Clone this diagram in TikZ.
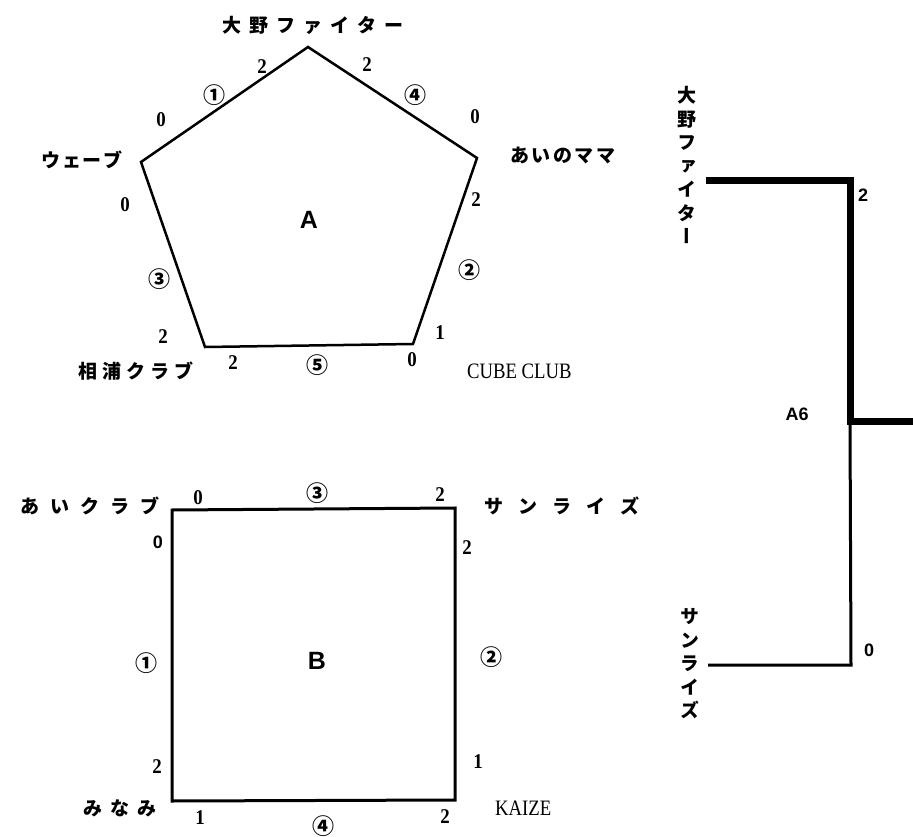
\documentclass[tikz,border=0pt]{standalone}
\usepackage{fontspec}
\setmainfont{Liberation Serif}
\setsansfont{Liberation Sans}
\newfontfamily\jpfont{Noto Sans CJK JP}
\newfontfamily\jpvert[RawFeature=+vert]{Noto Sans CJK JP}
\newfontfamily\clubfont[FakeStretch=0.85]{Liberation Serif}
\newfontfamily\ptsfont[FakeStretch=0.9]{Liberation Serif}
\usetikzlibrary{positioning}
\newlength\jgap
\def\jsp#1#2{\setlength\jgap{#1}\jspi#2\relax}
\def\jspi#1{\ifx#1\relax\unskip\else#1\hspace{\jgap}\expandafter\jspi\fi}

\begin{document}
\begin{tikzpicture}[x=1pt,y=-1pt]
\path [use as bounding box] (0,0) rectangle (913,837);
\tikzstyle{team} = [inner sep=0pt, font=\jpfont\bfseries\fontsize{19}{19}\selectfont]
\tikzstyle{vteam} = [inner sep=0pt, align=center, font=\jpvert\bfseries\fontsize{19}{23.5}\selectfont]
\tikzstyle{pts} = [inner sep=0pt, font=\ptsfont\bfseries\fontsize{21}{21}\selectfont]
\tikzstyle{spts} = [inner sep=0pt, font=\sffamily\bfseries\fontsize{18}{18}\selectfont]
\tikzstyle{order} = [inner sep=0pt, font=\jpfont\bfseries\fontsize{22}{22}\selectfont]
\tikzstyle{club} = [inner sep=0pt, font=\clubfont\fontsize{22}{22}\selectfont]
\tikzstyle{group} = [inner sep=0pt, font=\sffamily\bfseries\fontsize{25}{25}\selectfont]
\coordinate (oono) at (308,47);
\coordinate (aino) at (477,158);
\coordinate (cube) at (413,344);
\coordinate (aiura) at (205,347);
\coordinate (wave) at (141,162);
\draw[line width=2.5pt, line join=miter] (oono) -- (aino) -- (cube) -- (aiura) -- (wave) -- cycle;
\node[group] (A) at (309,220) {A};
\node[team] (oonoT) at (313,25) {\jsp{8pt}{大野ファイター}};
\node[team, anchor=west] (ainoT) at (510,155) {\jsp{2.5pt}{あいのママ}};
\node[team] (waveT) at (82,160) {\jsp{1.5pt}{ウェーブ}};
\node[team] (aiuraT) at (136,371) {\jsp{5pt}{相浦クラブ}};
\node[club, anchor=west] (cubeT) at (467,371) {CUBE CLUB};
\node[pts] at (262,67) {2};
\node[order] at (214,95) {①};
\node[pts] at (161,120) {0};
\node[pts] at (367,65) {2};
\node[order] at (415,95) {④};
\node[pts] at (475,117) {0};
\node[pts] at (476,200) {2};
\node[order] at (469,270) {②};
\node[pts] at (440,333) {1};
\node[pts] at (412,360) {0};
\node[order] at (317,365) {⑤};
\node[pts] at (233,363) {2};
\node[pts] at (125,205) {0};
\node[order] at (159,279) {③};
\node[pts] at (163,337) {2};
\coordinate (aiclub) at (172,510);
\coordinate (sun) at (455,508);
\coordinate (kaize) at (455,800);
\coordinate (minami) at (172,801);
\draw[line width=3pt, line join=miter] (aiclub) -- (sun) -- (kaize) -- (minami) -- cycle;
\node[group] (B) at (317,661) {B};
\node[team] (aiclubT) at (90,506) {\jsp{11pt}{あいクラブ}};
\node[team] (sunT) at (562,506) {\jsp{15pt}{サンライズ}};
\node[team] (minamiT) at (120,808) {\jsp{8pt}{みなみ}};
\node[club, anchor=west] (kaizeT) at (495,808) {KAIZE};
\node[pts] at (198,498) {0};
\node[order] at (317,493) {③};
\node[pts] at (440,495) {2};
\node[spts] at (158,542) {0};
\node[pts] at (467,548) {2};
\node[order] at (146,663) {①};
\node[order] at (491,657) {②};
\node[pts] at (157,767) {2};
\node[pts] at (478,762) {1};
\node[pts] at (200,818) {1};
\node[order] at (323,826) {④};
\node[pts] at (445,817) {2};
\node[vteam] (oonoV) at (687,165) {大\\野\\フ\\ァ\\イ\\タ\\ー};
\node[vteam] (sunV) at (690,664) {サ\\ン\\ラ\\イ\\ズ};
\coordinate (oonoE) at (706,181);
\coordinate (oonoC) at (850,181);
\coordinate (a6) at (850,421);
\coordinate (win) at (913,421);
\coordinate (sunC) at (851,665);
\coordinate (sunE) at (708,665);
\draw[line width=3pt] (a6) -- (sunC) -- (sunE);
\draw[line width=7pt, line join=miter] (oonoE) -- (oonoC) -- (a6) -- (win);
\node[spts] (a6T) at (797,414) {A6};
\node[spts] at (863,195) {2};
\node[spts] at (869,650) {0};
\end{tikzpicture}
\end{document}
